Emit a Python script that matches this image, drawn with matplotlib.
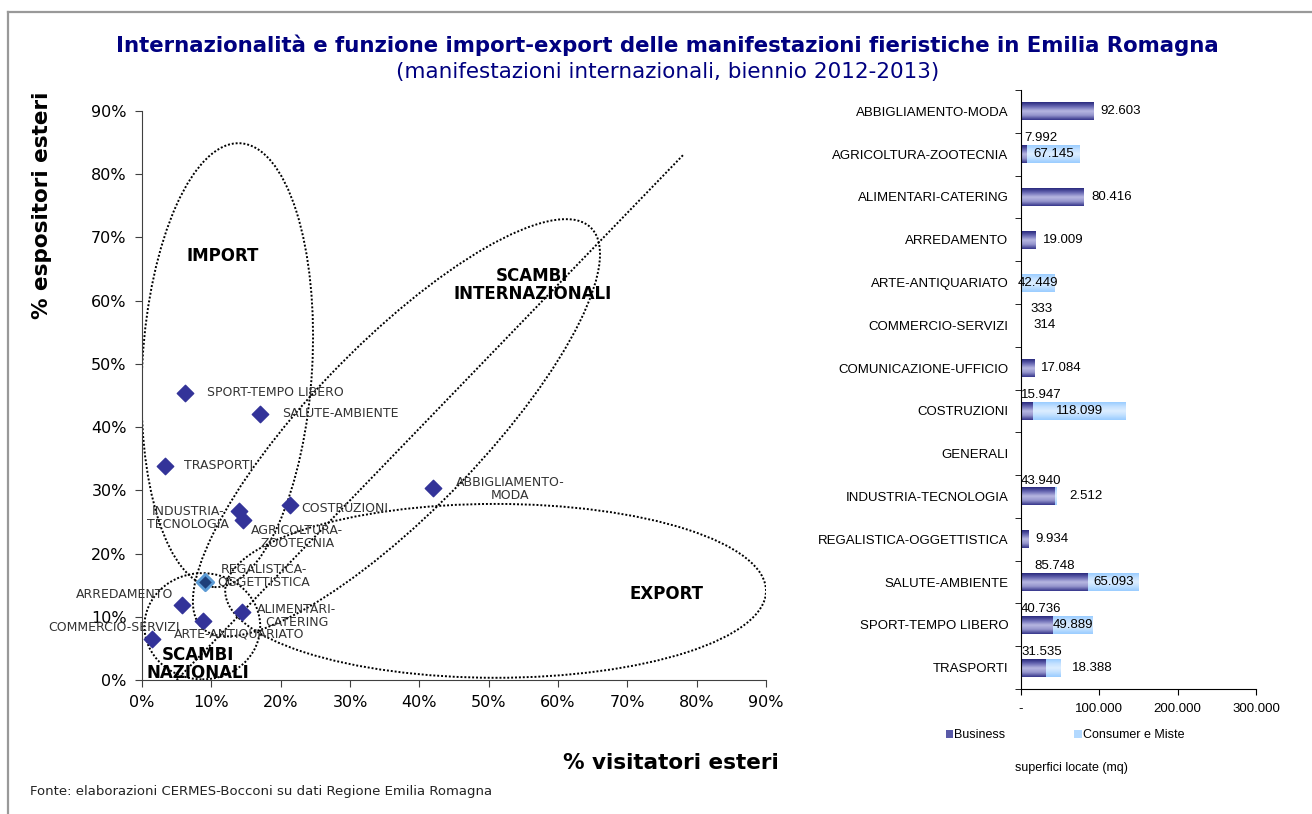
import numpy as np
import matplotlib
matplotlib.use("Agg")
import matplotlib.pyplot as plt
from matplotlib.patches import Ellipse, Patch
from matplotlib.lines import Line2D
from matplotlib.colors import LinearSegmentedColormap
from matplotlib.ticker import PercentFormatter, FixedLocator

# scatter: % visitatori esteri (x) vs % espositori esteri (y)
sectors = ['SPORT-TEMPO LIBERO', 'SALUTE-AMBIENTE', 'TRASPORTI',
           'ABBIGLIAMENTO-\nMODA', 'COSTRUZIONI', 'INDUSTRIA-\nTECNOLOGIA',
           'AGRICOLTURA-\nZOOTECNIA', 'REGALISTICA-\nOGGETTISTICA', 'ARREDAMENTO',
           'ALIMENTARI-\nCATERING', 'ARTE-ANTIQUARIATO', 'COMMERCIO-SERVIZI']
visitors = [6.2, 17.0, 3.3, 42.0, 21.4, 14.0, 14.6, 9.1, 5.8, 14.4, 8.8, 1.4]
exhibitors = [45.4, 42.1, 33.9, 30.4, 27.7, 26.7, 25.3, 15.5, 11.9, 10.8, 9.3, 6.5]

# bars: superfici locate (mq)
categories = ['ABBIGLIAMENTO-MODA', 'AGRICOLTURA-ZOOTECNIA', 'ALIMENTARI-CATERING',
              'ARREDAMENTO', 'ARTE-ANTIQUARIATO', 'COMMERCIO-SERVIZI',
              'COMUNICAZIONE-UFFICIO', 'COSTRUZIONI', 'GENERALI',
              'INDUSTRIA-TECNOLOGIA', 'REGALISTICA-OGGETTISTICA', 'SALUTE-AMBIENTE',
              'SPORT-TEMPO LIBERO', 'TRASPORTI']
business = [92603, 7992, 80416, 19009, 0, 333, 17084, 15947, 0, 43940, 9934, 85748, 40736, 31535]
consumer = [0, 67145, 0, 0, 42449, 314, 0, 118099, 0, 2512, 0, 65093, 49889, 18388]
bar_ticks = [0, 100000, 200000, 300000]
bar_tick_labels = ['-', '100.000', '200.000', '300.000']

NAVY = '#000080'
DIAMOND = '#333399'


def fmt(v):
    return f"{v:,}".replace(",", ".")


fig = plt.figure(figsize=(13.12, 8.14), dpi=100)

# frame
fig.add_artist(Line2D([8 / 1312, 1], [1 - 12 / 814] * 2, color='#999999', lw=1.6))
fig.add_artist(Line2D([8 / 1312] * 2, [0, 1 - 12 / 814], color='#999999', lw=1.6))

fig.text(667 / 1312, 1 - 45 / 814, "Internazionalità e funzione import-export delle "
         "manifestazioni fieristiche in Emilia Romagna", ha='center', va='center',
         fontsize=15.3, fontweight='bold', color=NAVY)
fig.text(668 / 1312, 1 - 72 / 814, "(manifestazioni internazionali, biennio 2012-2013)",
         ha='center', va='center', fontsize=15.5, color=NAVY)

# ---------------- scatter ----------------
ax = fig.add_axes([142 / 1312, 1 - 680 / 814, 624 / 1312, 569 / 814])
ax.set_xlim(0, 90)
ax.set_ylim(0, 90)
ax.xaxis.set_major_locator(FixedLocator(np.arange(0, 91, 10)))
ax.yaxis.set_major_locator(FixedLocator(np.arange(0, 91, 10)))
ax.xaxis.set_major_formatter(PercentFormatter(100, decimals=0))
ax.yaxis.set_major_formatter(PercentFormatter(100, decimals=0))
for s in ['top', 'right']:
    ax.spines[s].set_visible(False)
for s in ['left', 'bottom']:
    ax.spines[s].set_color('#404040')
ax.tick_params(direction='out', length=5, color='#404040', labelsize=11.5, pad=6)

dot = dict(fill=False, ls=(0, (1, 1)), lw=1.4, color='black')
ax.add_patch(Ellipse((12.3, 49.8), 24.5, 70.3, angle=-3, **dot))        # import
ax.add_patch(Ellipse((36.7, 39.9), 84.6, 25.4, angle=49, **dot))        # scambi internazionali
ax.add_patch(Ellipse((51.0, 14.1), 78.0, 27.5, angle=0, **dot))         # export
ax.add_patch(Ellipse((8.7, 8.5), 16.7, 16.8, angle=0, **dot))           # scambi nazionali
ax.plot([5.0, 78.1], [0, 83.1], ls=(0, (1, 1)), lw=1.4, color='black')
for sp in ax.spines.values():
    sp.set_zorder(5)

ax.scatter(visitors, exhibitors, marker='D', s=70, color=DIAMOND, zorder=4, clip_on=False)
i_reg = 7
ax.scatter([visitors[i_reg]], [exhibitors[i_reg]], marker='D', s=70, color='#1F3F7A',
           edgecolor='#5B9BD5', linewidth=2, zorder=4)

offsets = [(22, 0, 'left'), (22, 0, 'left'), (19, 0, 'left'), (77, -1, 'center'),
           (11, -4, 'left'), (-51, -7, 'center'), (54, -17, 'center'), (59, 6, 'center'),
           (-9, 10, 'right'), (55, -4, 'center'), (36, -13, 'center'), (28, 11, 'right')]
for name, x, y, (dx, dy, ha) in zip(sectors, visitors, exhibitors, offsets):
    ax.annotate(name, (x, y), xytext=(dx, dy), textcoords='offset pixels', ha=ha,
                va='center', fontsize=9, color='#333333', linespacing=1.0, zorder=6,
                annotation_clip=False)

region = dict(ha='center', va='center', fontsize=12, fontweight='bold', color='black',
              linespacing=1.0, zorder=6)
ax.text(11.7, 67.1, "IMPORT", **region)
ax.text(56.3, 62.5, "SCAMBI\nINTERNAZIONALI", **region)
ax.text(75.6, 13.6, "EXPORT", **region)
ax.text(8.1, 2.6, "SCAMBI\nNAZIONALI", clip_on=False, **region)

fig.text(42 / 1312, 1 - 205 / 814, "% espositori esteri", rotation=90, ha='center',
         va='center', fontsize=15.5, fontweight='bold')
fig.text(671 / 1312, 1 - 763 / 814, "% visitatori esteri", ha='center', va='center',
         fontsize=15.5, fontweight='bold')
fig.text(30 / 1312, 1 - 792 / 814, "Fonte: elaborazioni CERMES-Bocconi su dati Regione "
         "Emilia Romagna", ha='left', va='center', fontsize=9.5, color='#222222')

# ---------------- bars ----------------
bx = fig.add_axes([1021 / 1312, 1 - 689 / 814, 235 / 1312, 599 / 814])
n = len(categories)
for s in ['top', 'right']:
    bx.spines[s].set_visible(False)
bx.set_yticks(range(n))
bx.set_yticklabels(categories, fontfamily='Liberation Sans', fontsize=9.5)
bx.set_yticks(np.arange(-0.5, n, 1), minor=True)
bx.tick_params(axis='y', which='major', length=0, pad=9)
bx.tick_params(axis='y', which='minor', length=4, direction='out')
bx.set_xticks(bar_ticks)
bx.set_xticklabels(bar_tick_labels, fontfamily='Liberation Sans', fontsize=9.5)
bx.tick_params(axis='x', length=4, direction='out', pad=6)

cm_bus = LinearSegmentedColormap.from_list(
    'bus', ['#28287C', '#6A6AB4', '#B8B8E2', '#9494CC', '#34348A'])
cm_con = LinearSegmentedColormap.from_list(
    'con', ['#99CCFF', '#C4E1FF', '#DDEEFF', '#BFDFFF', '#99CCFF'])
grad = np.linspace(0, 1, 64).reshape(-1, 1)
h = 0.42


def gradient_bar(y, left, width, cmap):
    if width <= 0:
        return
    bx.imshow(grad, extent=[left, left + width, y + h / 2, y - h / 2], cmap=cmap,
              aspect='auto', interpolation='bicubic', zorder=2)


for i in range(n):
    gradient_bar(i, 0, business[i], cm_bus)
    gradient_bar(i, business[i], consumer[i], cm_con)
bx.set_xlim(0, 300000)
bx.set_ylim(n - 0.5, -0.5)

bus_mode = ['right', 'above', 'right', 'right', None, 'above', 'right', 'above', None,
            'above', 'right', 'above', 'above', 'above']
con_mode = [None, 'inside', None, None, 'inside', 'right', None, 'inside', None,
            'right', None, 'inside', 'inside', 'right']
lab = dict(fontfamily='Liberation Sans', fontsize=9.5, va='center', zorder=4)
for i in range(n):
    b, c = business[i], consumer[i]
    if bus_mode[i] == 'right':
        bx.annotate(fmt(b), (b + c, i), xytext=(7, 0), textcoords='offset pixels',
                    ha='left', annotation_clip=False, **lab)
    elif bus_mode[i] == 'above':
        bx.annotate(fmt(b), (max(b / 2, 26000), i - 0.37), ha='center',
                    annotation_clip=False, **lab)
    if con_mode[i] == 'right':
        bx.annotate(fmt(c), (b + c, i), xytext=(12, 0), textcoords='offset pixels',
                    ha='left', annotation_clip=False, **lab)
    elif con_mode[i] == 'inside':
        bx.annotate(fmt(c), (b + c / 2, i), ha='center', annotation_clip=False, **lab)

handles = [Patch(facecolor='#5A5AA8', label='Business'),
           Patch(facecolor='#B3D9FF', label='Consumer e Miste')]
fig.legend(handles=handles, loc='center', bbox_to_anchor=(1065 / 1312, 1 - 735 / 814),
           ncol=2, frameon=False, handlelength=0.6, handleheight=0.6, handletextpad=0.1,
           columnspacing=5.5, prop={'family': 'Liberation Sans', 'size': 9})
fig.text(1071 / 1312, 1 - 768 / 814, "superfici locate (mq)", ha='center', va='center',
         fontfamily='Liberation Sans', fontsize=9)

fig.savefig('out.png', dpi=100)
